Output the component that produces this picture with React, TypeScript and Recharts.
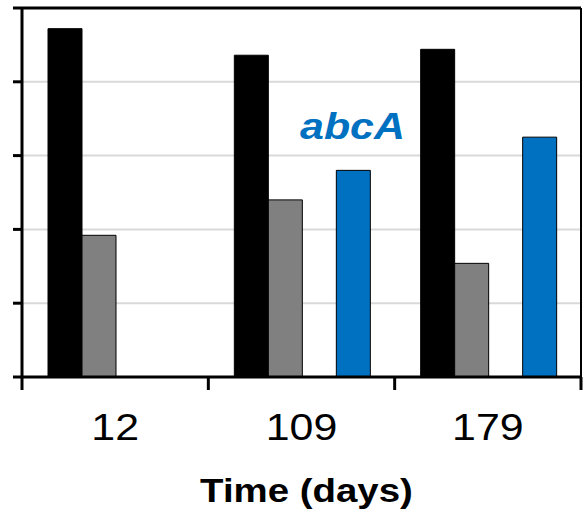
import React from 'react';
import {
    BarChart, Bar, XAxis, YAxis, CartesianGrid, ReferenceLine, ReferenceDot,
} from 'recharts';

// three sampling times, y axis has no printed numbers (0..5 units)
const days = ['12', '109', '179'];
const blackSeries = [4.72, 4.36, 4.44];
const graySeries = [1.92, 2.4, 1.54];
const emptySeries = [null, null, null];
const blueSeries = [-0.04, 2.8, 3.25];
const yTicks = [0, 1, 2, 3, 4, 5];

const data = days.map((d, i) => ({
    day: d,
    black: blackSeries[i],
    gray: graySeries[i],
    empty: emptySeries[i],
    blue: blueSeries[i],
}));

const FONT = 'Liberation Sans, Arial, sans-serif';
const STRETCH = 1.16; // the original text is a bit wider than it is tall

const DayTick = (props: any) => {
    const { x, y, payload, index } = props;
    const half = payload && payload.offset ? payload.offset : 93;
    const fs = 37;
    const label = String(payload.value);
    return (
        <g>
            <line x1={x - half} x2={x - half} y1={y} y2={y + 13} stroke="#000" strokeWidth={3} />
            {index === days.length - 1 && (
                <line x1={x + half} x2={x + half} y1={y} y2={y + 13} stroke="#000" strokeWidth={3} />
            )}
            <text
                x={x}
                y={y + 63}
                textAnchor="middle"
                fontFamily={FONT}
                fontSize={fs}
                textLength={label.length * 0.556 * fs * STRETCH}
                lengthAdjust="spacingAndGlyphs"
                fill="#000"
            >
                {label}
            </text>
        </g>
    );
};

const GeneLabel = (props: any) => {
    const { viewBox } = props;
    const cx = viewBox ? viewBox.cx ?? viewBox.x : 0;
    const cy = viewBox ? viewBox.cy ?? viewBox.y : 0;
    return (
        <text
            x={cx + 51}
            y={cy}
            textAnchor="middle"
            fontFamily={FONT}
            fontSize={37}
            fontWeight="bold"
            fontStyle="italic"
            textLength={2.445 * 37 * STRETCH}
            lengthAdjust="spacingAndGlyphs"
            fill="#0070C0"
        >
            abcA
        </text>
    );
};

const TitleLabel = (props: any) => {
    const { viewBox } = props;
    const cx = viewBox.x + viewBox.width / 2;
    return (
        <text
            x={cx + 5}
            y={502}
            textAnchor="middle"
            fontFamily={FONT}
            fontSize={33}
            fontWeight="bold"
            textLength={5.557 * 33 * STRETCH}
            lengthAdjust="spacingAndGlyphs"
            fill="#000"
        >
            Time (days)
        </text>
    );
};

export default function App() {
    return (
        <div style={{ position: 'absolute', left: 0, top: 0, width: 583, height: 515, background: '#fff' }}>
            <BarChart
                width={583}
                height={515}
                data={data}
                margin={{ top: 8, right: 0, left: 0, bottom: 0 }}
                barCategoryGap={26}
                barGap={0}
            >
                <CartesianGrid vertical={false} stroke="#d9d9d9" strokeWidth={2} />
                <XAxis
                    dataKey="day"
                    height={138}
                    tickLine={false}
                    tickSize={0}
                    tickMargin={0}
                    axisLine={{ stroke: '#000', strokeWidth: 3 }}
                    tick={<DayTick />}
                    interval={0}
                    label={<TitleLabel />}
                />
                <YAxis
                    width={22}
                    domain={[0, 5]}
                    ticks={yTicks}
                    allowDataOverflow
                    tickSize={9}
                    tickFormatter={() => ''}
                    axisLine={{ stroke: '#000', strokeWidth: 3 }}
                    tickLine={{ stroke: '#000', strokeWidth: 3 }}
                />
                <YAxis
                    yAxisId="frame"
                    orientation="right"
                    width={2}
                    domain={[0, 5]}
                    tick={false}
                    tickLine={false}
                    axisLine={{ stroke: '#000', strokeWidth: 2 }}
                />
                <ReferenceLine y={5} stroke="#000" strokeWidth={3} />
                <Bar dataKey="black" fill="#000000" stroke="#000" strokeWidth={1} isAnimationActive={false} />
                <Bar dataKey="gray" fill="#808080" stroke="#000" strokeWidth={1} isAnimationActive={false} />
                <Bar dataKey="empty" fill="none" isAnimationActive={false} />
                <Bar dataKey="blue" fill="#0070C0" stroke="#000" strokeWidth={1} isAnimationActive={false} />
                <ReferenceDot x="109" y={3.22} r={0} stroke="none" fill="none" label={<GeneLabel />} />
            </BarChart>
        </div>
    );
}
